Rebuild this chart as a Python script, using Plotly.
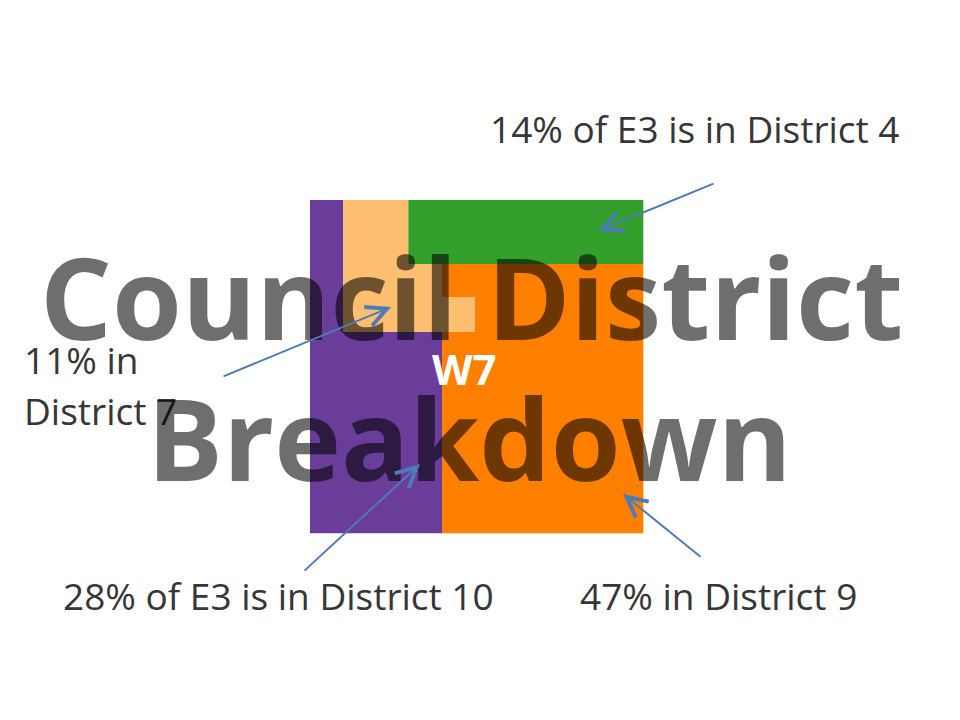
import plotly.graph_objects as go

# ---- data -------------------------------------------------------------
districts = ["District 10", "District 7", "District 4", "District 9"]
shares = [28, 11, 14, 47]
colors = ["#6a3d9a", "#fdbf6f", "#33a02c", "#ff7f00"]

# region outlines of E3 on a 0-100 grid (y grows downward)
region_x = [
    [0, 10, 10, 39.6, 39.6, 0],
    [10, 29.5, 29.5, 39.6, 39.6, 49.5, 49.5, 10],
    [29.5, 100, 100, 29.5],
    [39.6, 100, 100, 39.6, 39.6, 49.5, 49.5, 39.6],
]
region_y = [
    [0, 0, 39.6, 39.6, 100, 100],
    [0, 0, 19.2, 19.2, 29.1, 29.1, 39.6, 39.6],
    [0, 0, 19.2, 19.2],
    [19.2, 19.2, 100, 100, 39.6, 39.6, 29.1, 29.1],
]

callout_text = ["28% of E3 is in District 10", "11% in<br>District 7",
                "14% of E3 is in District 4", "47% in District 9"]
arrow_head = [(33.0, 79.2), (24.3, 32.1), (86.4, 9.3), (93.9, 88.2)]
arrow_tail = [(-2.1, 111.6), (-26.4, 53.1), (121.5, -5.1), (117.6, 107.4)]

area_label = "W7"
title_lines = ["Council District", "Breakdown"]

# ---- figure -----------------------------------------------------------
W, H = 960, 720
fig = go.Figure()
for name, xs, ys, c, s in zip(districts, region_x, region_y, colors, shares):
    fig.add_trace(go.Scatter(
        x=xs + [xs[0]], y=ys + [ys[0]], mode="lines", fill="toself",
        fillcolor=c, line=dict(width=0, color=c), name=name,
        hoverinfo="text", text=f"{name}: {s}%", showlegend=False))

ann = []
label_font = dict(family="Open Sans", size=37, color="#363636")


def P(xp, yp):
    return dict(x=xp / W, y=1 - yp / H, xref="paper", yref="paper")


# callout texts
ann.append(dict(text=callout_text[0], showarrow=False, xanchor="center",
                yanchor="middle", font=label_font, **P(278, 595)))
ann.append(dict(text=callout_text[1].split("<br>")[0], showarrow=False,
                xanchor="left", yanchor="middle", font=label_font, **P(22, 359)))
ann.append(dict(text=callout_text[1].split("<br>")[1], showarrow=False,
                xanchor="left", yanchor="middle", font=label_font, **P(22, 410)))
ann.append(dict(text=callout_text[2], showarrow=False, xanchor="center",
                yanchor="middle", font=label_font, **P(695, 128)))
ann.append(dict(text=callout_text[3], showarrow=False, xanchor="center",
                yanchor="middle", font=label_font, **P(718, 595)))

# area label
ann.append(dict(text=f"<b>{area_label}</b>", showarrow=False, x=46.2, y=50.5,
                xref="x", yref="y", xanchor="center", yanchor="middle",
                font=dict(family="Open Sans", size=42, color="white")))

# overlaid title
title_font = dict(family="Open Sans", size=113, color="rgba(0,0,0,0.57)",
                  weight="bold")
ann.append(dict(text=title_lines[0], showarrow=False, xanchor="center",
                yanchor="middle", font=title_font, **P(471, 296)))
ann.append(dict(text=title_lines[1], showarrow=False, xanchor="center",
                yanchor="middle", font=title_font, **P(469, 437)))

# arrows
for (hx, hy), (tx, ty) in zip(arrow_head, arrow_tail):
    ann.append(dict(text="", x=hx, y=hy, xref="x", yref="y",
                    ax=tx, ay=ty, axref="x", ayref="y", showarrow=True,
                    arrowhead=5, arrowsize=2.0, arrowwidth=2,
                    arrowcolor="#4e7bb5", standoff=0, startstandoff=0))

s = 10 / 3
fig.update_layout(
    width=W, height=H, margin=dict(l=0, r=0, t=0, b=0),
    paper_bgcolor="white", plot_bgcolor="white",
    xaxis=dict(range=[-310 / s, (W - 310) / s], visible=False,
               fixedrange=True),
    yaxis=dict(range=[(H - 200) / s, -200 / s], visible=False,
               fixedrange=True),
    annotations=ann, showlegend=False,
)
fig.write_html("out.html")
